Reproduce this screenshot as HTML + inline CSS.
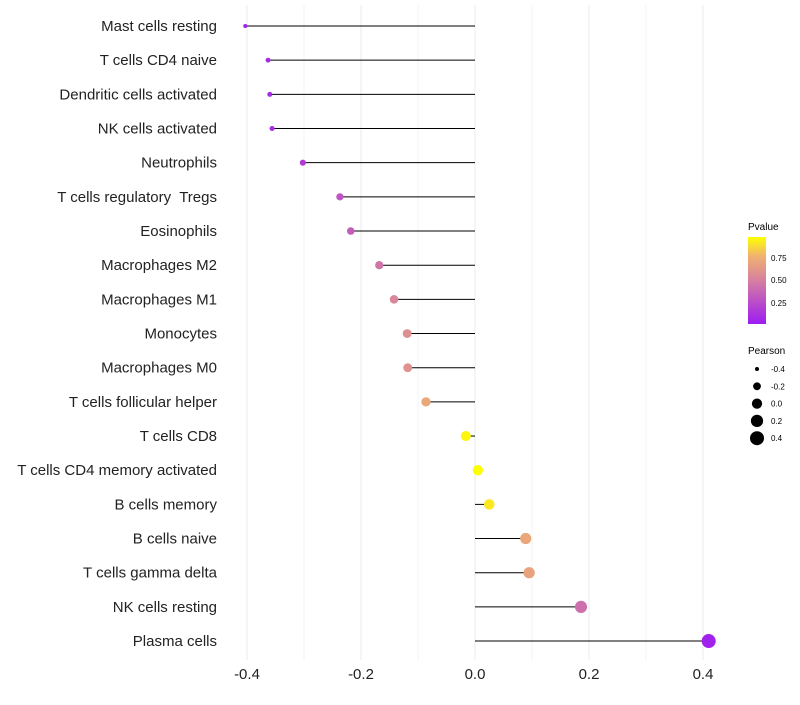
<!DOCTYPE html>
<html><head><meta charset="utf-8"><style>
body{margin:0;background:#fff;font-family:"Liberation Sans",sans-serif}
svg text{font-family:"Liberation Sans",sans-serif;white-space:pre}
</style></head><body>
<svg id="chart" width="800" height="700" xmlns="http://www.w3.org/2000/svg">
<defs><linearGradient id="pg" x1="0" y1="1" x2="0" y2="0">
<stop offset="0" stop-color="#9d1cf2"/><stop offset="0.5" stop-color="#d67fa0"/><stop offset="0.78" stop-color="#f0b270"/><stop offset="1" stop-color="#ffff00"/></linearGradient></defs>
<g id="grid"></g><g id="marks"></g><g id="labels"></g><g id="xticks"></g>
<g>
<text x="748" y="230" font-size="10">Pvalue</text>
<rect x="748" y="237" width="18" height="87" fill="url(#pg)"/>
<text x="771" y="261" font-size="8">0.75</text>
<text x="771" y="283" font-size="8">0.50</text>
<text x="771" y="306" font-size="8">0.25</text>
</g>
<g id="sizeLegend">
<text x="748" y="354" font-size="10">Pearson</text>
</g>
</svg>
<script>
const categories=["Mast cells resting","T cells CD4 naive","Dendritic cells activated","NK cells activated","Neutrophils","T cells regulatory  Tregs","Eosinophils","Macrophages M2","Macrophages M1","Monocytes","Macrophages M0","T cells follicular helper","T cells CD8","T cells CD4 memory activated","B cells memory","B cells naive","T cells gamma delta","NK cells resting","Plasma cells"];
const pearson=[-0.403,-0.363,-0.36,-0.356,-0.302,-0.237,-0.218,-0.168,-0.142,-0.119,-0.118,-0.086,-0.016,0.005,0.025,0.089,0.095,0.186,0.41];
const pvalue=[0.08,0.12,0.12,0.13,0.2,0.32,0.36,0.47,0.55,0.6,0.61,0.72,0.95,0.98,0.92,0.72,0.7,0.44,0.08];
const xTicks=[-0.4,-0.2,0,0.2,0.4];
const sizeTicks=[-0.4,-0.2,0,0.2,0.4];
const NS="http://www.w3.org/2000/svg";
const x=v=>475+v*570;
const y=i=>26+i*34.17;
const r=v=>Math.sqrt(4+Math.max(0,(v+0.4)/0.8)*45);
function col(p){const t=Math.max(0,Math.min(1,(p-0.05)/0.93));
const st=[[0,[157,28,242]],[0.5,[214,127,160]],[0.78,[240,178,112]],[1,[255,255,0]]];
for(let k=1;k<st.length;k++){if(t<=st[k][0]){const a=st[k-1],b=st[k],f=(t-a[0])/(b[0]-a[0]);
return "rgb("+a[1].map((c,j)=>Math.round(c+(b[1][j]-c)*f)).join(",")+")";}}return "rgb(255,255,0)";}
function mk(tag,attrs,parent){const e=document.createElementNS(NS,tag);for(const k in attrs)e.setAttribute(k,attrs[k]);parent.appendChild(e);return e;}
const grid=document.getElementById('grid'),marks=document.getElementById('marks'),labels=document.getElementById('labels'),xt=document.getElementById('xticks'),sl=document.getElementById('sizeLegend');
for(let k=-4;k<=4;k++){const v=k/10;const l=mk('line',{x1:x(v),x2:x(v),y1:5,y2:660,stroke:'#ebebeb','stroke-width':k%2==0?1:0.6},grid);

}
xTicks.forEach(v=>{const t=mk('text',{x:x(v),y:679,'font-size':15,'text-anchor':'middle',fill:'#222'},xt);t.textContent=v.toFixed(1);

});
categories.forEach((c,i)=>{
const t=mk('text',{x:217,y:y(i)+5,'font-size':15,'text-anchor':'end',fill:'#222'},labels);t.textContent=c;


const l=mk('line',{x1:x(0),x2:x(pearson[i]),y1:y(i),y2:y(i),stroke:'#000','stroke-width':1},marks);


const d=mk('circle',{cx:x(pearson[i]),cy:y(i),r:r(pearson[i]),fill:col(pvalue[i])},marks);


});
sizeTicks.forEach((v,k)=>{const cy=369+k*17.3;
const c=mk('circle',{cx:757,cy:cy,r:r(v),fill:'#000'},sl);


const t=mk('text',{x:771,y:cy+3,'font-size':8},sl);t.textContent=v.toFixed(1);

});
</script>
</body></html>
